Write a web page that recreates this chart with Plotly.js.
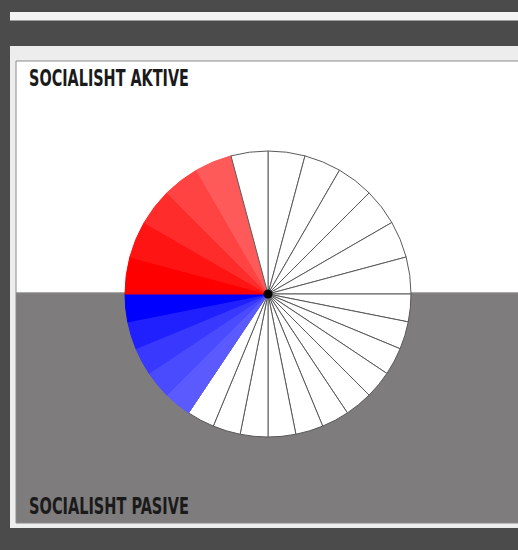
<!DOCTYPE html>
<html>
<head>
<meta charset="utf-8">
<script src="https://cdn.plot.ly/plotly-3.0.1.min.js"></script>
<style>html,body{margin:0;padding:0;background:#4b4b4b;}#chart{width:518px;height:550px;}</style>
</head>
<body>
<div id="chart"></div>
<script>
// Slices, clockwise from 12 o'clock
var sliceLabels = [
  "A1","A2","A3","A4","A5","A6",
  "P1","P2","P3","P4","P5","P6","P7","P8",
  "P9","P10","P11",
  "Pasive 1","Pasive 2","Pasive 3","Pasive 4","Pasive 5",
  "Aktive 1","Aktive 2","Aktive 3","Aktive 4","Aktive 5",
  "A7"
];
var sliceValues = [
  15,15,15,15,15,15,
  11.25,11.25,11.25,11.25,11.25,11.25,11.25,11.25,
  11.25,11.25,11.25,
  11.25,11.25,11.25,11.25,11.25,
  15,15,15,15,15,
  15
];
var sliceColors = [
  "#ffffff","#ffffff","#ffffff","#ffffff","#ffffff","#ffffff",
  "#ffffff","#ffffff","#ffffff","#ffffff","#ffffff","#ffffff","#ffffff","#ffffff",
  "#ffffff","#ffffff","#ffffff",
  "#5a5aff","#4a4aff","#3838ff","#2020ff","#0000ff",
  "#ff0000","#ff1414","#ff2c2c","#ff4242","#ff5a5a",
  "#ffffff"
];
var topLabel = "SOCIALISHT AKTIVE";
var bottomLabel = "SOCIALISHT PASIVE";

var W = 518, H = 550;
function px(x){ return x / W; }
function py(y){ return 1 - y / H; }

var cx = 268, cy = 294, R = 143;

var lineColors = sliceColors.map(function(c){ return c === "#ffffff" ? "#5a5a5a" : c; });

var trace = {
  type: "pie",
  labels: sliceLabels,
  values: sliceValues,
  sort: false,
  direction: "clockwise",
  rotation: 0,
  textinfo: "none",
  hoverinfo: "none",
  marker: { colors: sliceColors, line: { color: lineColors, width: 1 } },
  domain: { x: [px(cx - R), px(cx + R)], y: [py(cy + R), py(cy - R)] }
};

var labelFont = { family: "DejaVu Sans Condensed, sans-serif", size: 23, color: "#1a1a1a", weight: "bold" };

var layout = {
  width: W, height: H,
  margin: { l: 0, r: 0, t: 0, b: 0 },
  paper_bgcolor: "#4b4b4b",
  showlegend: false,
  hovermode: false,
  shapes: [
    { type: "rect", xref: "paper", yref: "paper", layer: "below",
      x0: px(10), x1: px(520), y0: py(12), y1: py(20.5),
      fillcolor: "#f4f4f4", line: { width: 0 } },
    { type: "rect", xref: "paper", yref: "paper", layer: "below",
      x0: px(10), x1: px(520), y0: py(46), y1: py(528),
      fillcolor: "#ededed", line: { width: 0 } },
    { type: "rect", xref: "paper", yref: "paper", layer: "below",
      x0: px(16), x1: px(520), y0: py(61), y1: py(293),
      fillcolor: "#ffffff", line: { color: "#8a8a8a", width: 1 } },
    { type: "rect", xref: "paper", yref: "paper", layer: "below",
      x0: px(16), x1: px(520), y0: py(293), y1: py(523),
      fillcolor: "#7e7c7d", line: { color: "#8a8a8a", width: 1 } },
    { type: "circle", xref: "paper", yref: "paper", layer: "above",
      x0: px(cx - 4.5), x1: px(cx + 4.5), y0: py(cy + 4.5), y1: py(cy - 4.5),
      fillcolor: "#000000", line: { width: 0 } }
  ],
  annotations: [
    { text: topLabel, xref: "paper", yref: "paper", x: px(27), y: py(78.5),
      xanchor: "left", yanchor: "middle", showarrow: false, font: labelFont },
    { text: bottomLabel, xref: "paper", yref: "paper", x: px(27), y: py(505.5),
      xanchor: "left", yanchor: "middle", showarrow: false, font: labelFont }
  ]
};

Plotly.newPlot("chart", [trace], layout, { staticPlot: true, displayModeBar: false }).then(function(gd){
  // condense the label text horizontally to mimic the narrow display face
  var targetWidth = 160;
  var texts = gd.querySelectorAll(".annotation-text");
  texts.forEach(function(t){
    var bb = t.getBBox();
    if (!bb.width) return;
    var s = Math.min(1, targetWidth / bb.width);
    var a = bb.x;
    t.setAttribute("transform", "translate(" + a + ",0) scale(" + s + ",1) translate(" + (-a) + ",0)");
  });
});
</script>
</body>
</html>
